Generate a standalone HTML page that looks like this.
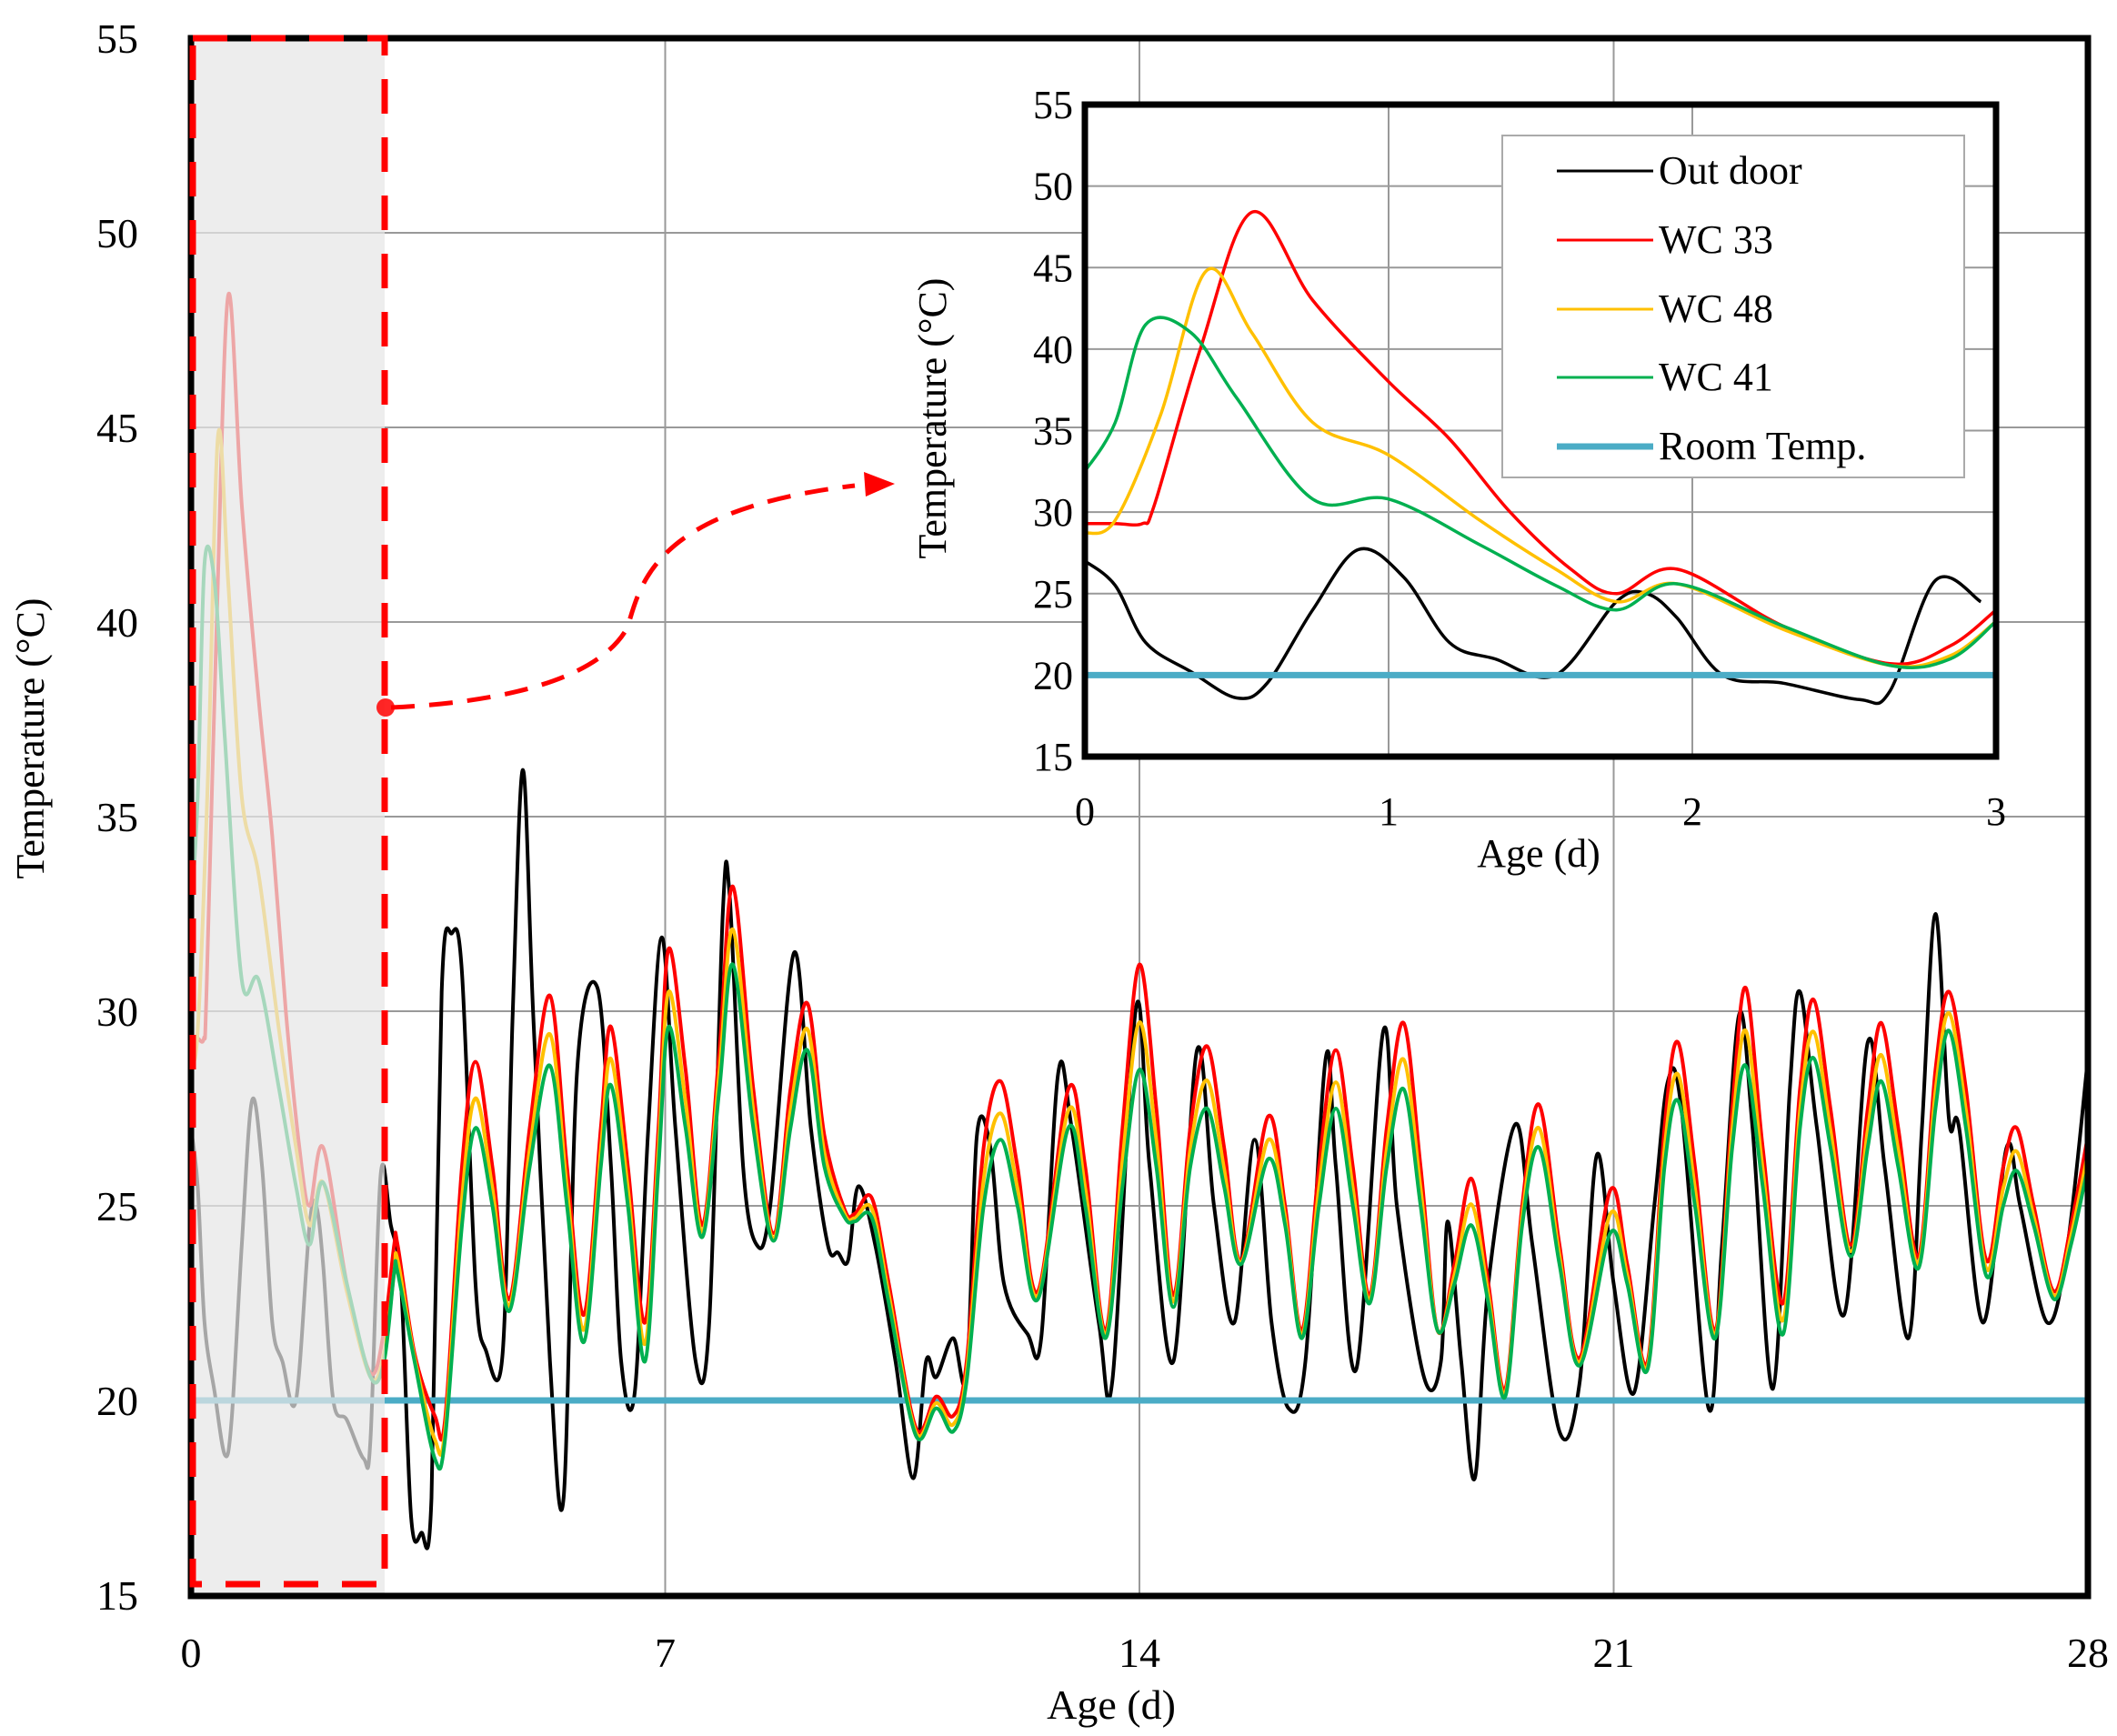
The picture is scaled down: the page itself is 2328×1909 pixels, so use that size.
<!DOCTYPE html>
<html><head><meta charset="utf-8">
<style>
html,body{margin:0;padding:0;background:#fff;}
svg{display:block;}
text{font-family:"Liberation Serif",serif;fill:#000;}
</style></head>
<body>
<svg id="s" width="2328" height="1909" viewBox="0 0 2328 1909" xmlns="http://www.w3.org/2000/svg">
<rect width="2328" height="1909" fill="#fff"/>
<g id="maingrid" stroke="#999" stroke-width="2"></g>
<g id="mainlines" fill="none" stroke-linejoin="round"></g>
<rect x="210" y="42" width="213" height="1713" fill="#e6e6e6" opacity="0.72"/>
<rect x="210" y="42" width="2086" height="1713" fill="none" stroke="#000" stroke-width="7"/>
<rect x="212" y="42" width="211" height="1700" fill="none" stroke="#f00" stroke-width="7" stroke-dasharray="38,26"/>
<path d="M430,778 C560,772 660,745 690,690 C705,640 720,560 940,534" fill="none" stroke="#f00" stroke-width="5" stroke-dasharray="26,16"/>
<polygon points="984,532 950,519 952,546" fill="#f00"/>
<circle cx="424" cy="778" r="10" fill="#f00" opacity="0.85"/>
<g id="ylab" font-size="46" text-anchor="end"></g>
<g id="xlab" font-size="46" text-anchor="middle"></g>
<text x="1222" y="1890" font-size="46" text-anchor="middle">Age (d)</text>
<text transform="translate(48,812) rotate(-90)" font-size="44" text-anchor="middle">Temperature (°C)</text>
<rect x="1193" y="115" width="1002" height="717" fill="#fff"/>
<g id="insetgrid" stroke="#999" stroke-width="2"></g>
<g id="insetlines" fill="none" stroke-linejoin="round"></g>
<rect x="1193" y="115" width="1002" height="717" fill="none" stroke="#000" stroke-width="7"/>
<g id="iylab" font-size="44" text-anchor="end"></g>
<g id="ixlab" font-size="44" text-anchor="middle"></g>
<text x="1692" y="953" font-size="44" text-anchor="middle">Age (d)</text>
<text transform="translate(1040,460) rotate(-90)" font-size="44" text-anchor="middle">Temperature (°C)</text>
<rect x="1652" y="149" width="508" height="376" fill="#fff" stroke="#aaa" stroke-width="2"/>
<g font-size="44">
<line x1="1712" y1="188" x2="1818" y2="188" stroke="#000" stroke-width="3"/><text x="1824" y="202">Out door</text>
<line x1="1712" y1="264" x2="1818" y2="264" stroke="#f00" stroke-width="3"/><text x="1824" y="278">WC 33</text>
<line x1="1712" y1="340" x2="1818" y2="340" stroke="#ffc000" stroke-width="3"/><text x="1824" y="354">WC 48</text>
<line x1="1712" y1="415" x2="1818" y2="415" stroke="#00b050" stroke-width="3"/><text x="1824" y="429">WC 41</text>
<line x1="1712" y1="491" x2="1818" y2="491" stroke="#4bacc6" stroke-width="7"/><text x="1824" y="505">Room Temp.</text>
</g>
</svg>
<script>
const NS="http://www.w3.org/2000/svg";
function el(tag,attrs,parent,txt){const e=document.createElementNS(NS,tag);for(const k in attrs)e.setAttribute(k,attrs[k]);if(txt!==undefined)e.textContent=txt;document.getElementById(parent).appendChild(e);return e;}
function smooth(pts){let d="M"+pts[0][0].toFixed(1)+","+pts[0][1].toFixed(1);
 for(let i=0;i<pts.length-1;i++){const p0=pts[i-1]||pts[i],p1=pts[i],p2=pts[i+1],p3=pts[i+2]||p2;
  const c1=[p1[0]+(p2[0]-p0[0])/6,p1[1]+(p2[1]-p0[1])/6],c2=[p2[0]-(p3[0]-p1[0])/6,p2[1]-(p3[1]-p1[1])/6];
  d+="C"+c1.map(v=>v.toFixed(1))+" "+c2.map(v=>v.toFixed(1))+" "+p2.map(v=>v.toFixed(1));}
 return d;}
const X=d=>210+d*74.5, Y=t=>42+(55-t)*42.8;
const IX=d=>1193+d*334, IY=t=>115+(55-t)*17.925;
const blk0=[[0,27],[0.1,25.5],[0.2,22],[0.35,20.2],[0.5,18.6],[0.6,19.5],[0.75,24],[0.9,27.7],[1.05,26],[1.2,22],[1.35,21],[1.55,20],[1.75,24.5],[1.85,25],[1.95,23.5],[2.1,20],[2.3,19.5],[2.55,18.5],[2.65,19],[2.8,25.8],[2.95,24.5]];
const red0=[[0,29.3],[0.1,29.3],[0.19,29.3],[0.23,30.5],[0.38,40],[0.55,48.4],[0.75,43],[1.0,38],[1.2,34.5],[1.4,30],[1.6,26.5],[1.75,25],[1.95,26.5],[2.3,23],[2.65,20.7],[2.85,21.8],[3,24]];
const yel0=[[0,28.7],[0.1,29.5],[0.25,36],[0.4,44.8],[0.55,41],[0.75,35.5],[1.0,33.5],[1.3,29.5],[1.55,26.5],[1.75,24.5],[1.95,25.6],[2.3,22.8],[2.65,20.6],[2.85,21.2],[3,23.3]];
const grn0=[[0,32.5],[0.1,35.5],[0.2,41.5],[0.35,41],[0.5,37],[0.75,30.8],[1.0,30.8],[1.3,28],[1.55,25.5],[1.75,24],[1.95,25.6],[2.3,23],[2.65,20.6],[2.85,21],[3,23.3]];
const blk1=[[3.1,23],[3.25,17],[3.4,16.6],[3.55,17.5],[3.7,30.5],[3.85,32],[4.0,31],[4.2,23],[4.35,21.3],[4.6,21.2],[4.75,30],[4.9,36.2],[5.05,30],[5.3,21],[5.5,17.5],[5.7,28.5],[6.0,30.6],[6.2,26],[6.35,21],[6.55,20.2],[6.75,27],[6.95,31.9],[7.15,27],[7.45,21],[7.65,22],[7.85,32.5],[7.95,33],[8.15,26],[8.35,24],[8.55,25],[8.9,31.5],[9.15,27],[9.4,24],[9.55,23.8],[9.7,23.6],[9.85,25.5],[10.1,24],[10.4,21],[10.66,18],[10.85,21],[11.0,20.6],[11.25,21.6],[11.45,20.6],[11.6,26.8],[11.8,26.5],[12.0,23],[12.35,21.7],[12.55,21.6],[12.8,28.4],[13.0,27],[13.4,22],[13.6,20.5],[13.95,30.1],[14.15,26],[14.5,21],[14.85,29],[15.1,25],[15.4,22],[15.7,26.7],[15.95,22],[16.2,19.8],[16.45,21],[16.75,28.8],[16.9,26],[17.2,20.8],[17.6,29.5],[17.8,25],[18.2,20.6],[18.45,21],[18.55,24.6],[18.75,21],[18.95,18],[19.15,23],[19.55,27.1],[19.8,24],[20.2,19.2],[20.5,20.5],[20.75,26.3],[21.0,23],[21.3,20.2],[21.6,25],[21.8,28.2],[22.0,27.5],[22.4,19.8],[22.6,24],[22.85,29.9],[23.05,27],[23.35,20.3],[23.6,28],[23.75,30.5],[24.0,27],[24.4,22.2],[24.75,29.2],[25.0,26],[25.35,21.6],[25.55,27],[25.75,32.5],[25.95,27.2],[26.1,27],[26.45,22],[26.8,26.5],[27.0,25],[27.4,22],[27.7,24],[28,28.8]];
const cc=[[3.05,23.3,24.0],[3.3,21,21.2],[3.6,18.5,19.6],[3.75,19,19.5],[4.0,24.5,26],[4.2,27,28.7],[4.45,25,26],[4.7,22.3,22.6],[5.0,26,27],[5.3,28.6,30.4],[5.55,25,26],[5.8,21.5,22.2],[6.05,26,27],[6.2,28.1,29.6],[6.45,25,26],[6.7,21,22],[6.9,26,27],[7.05,29.6,31.6],[7.3,27,28.5],[7.55,24.2,24.5],[7.8,28,29],[8.0,31.2,33.2],[8.3,27,28],[8.6,24.1,24.3],[8.85,27,28],[9.1,29,30.2],[9.35,26,26.8],[9.65,24.7,24.9],[9.8,24.6,24.8],[10.05,24.7,25.2],[10.3,22.5,23],[10.7,19.1,19.3],[11.0,19.8,20.1],[11.25,19.2,19.6],[11.45,20.5,21],[11.7,25,26.5],[11.95,26.7,28.2],[12.2,25,26],[12.5,22.6,22.8],[12.95,27,28],[13.2,25,26],[13.5,21.6,21.8],[13.75,25.5,27],[14.0,28.5,31.2],[14.25,26,27.5],[14.5,22.4,22.7],[14.75,26,27],[15.0,27.5,29.1],[15.25,25.5,26.5],[15.5,23.5,23.6],[15.9,26.2,27.3],[16.15,24.5,25],[16.4,21.6,21.8],[16.65,25,26],[16.9,27.5,29],[17.15,25,26],[17.4,22.5,22.7],[17.65,26,27],[17.9,28,29.7],[18.15,25,26],[18.4,21.8,21.8],[18.65,23,23.5],[18.9,24.5,25.7],[19.15,22.5,23],[19.4,20.1,20.3],[19.65,24.5,25],[19.9,26.5,27.6],[20.2,23.5,24],[20.5,20.9,21.1],[20.95,24.3,25.4],[21.2,23,23.5],[21.5,20.8,21],[21.75,26,27],[21.95,27.7,29.2],[22.2,25,26],[22.5,21.6,21.8],[22.75,26.5,27.5],[22.95,28.6,30.6],[23.2,25.5,26.5],[23.5,21.7,22.5],[23.75,27,28],[23.95,28.8,30.3],[24.2,26.5,27.5],[24.5,23.7,24],[24.75,26.5,27.5],[24.95,28.2,29.7],[25.2,26,27],[25.5,23.4,23.7],[25.75,27.5,28.5],[25.95,29.5,30.5],[26.2,27,28],[26.5,23.2,23.6],[26.75,25,26],[26.95,25.9,27],[27.2,24.5,25],[27.5,22.6,22.8],[27.75,24,24.5],[28,26,26.8]];
const grn=grn0.concat(cc.map(r=>[r[0],r[1]]));
const red=red0.concat(cc.map(r=>[r[0],r[2]]));
const yel=yel0.concat(cc.map(r=>[r[0],r[1]+0.45*(r[2]-r[1])]));
const blk=blk0.concat(blk1);
for(let t=20;t<=50;t+=5) el("line",{x1:210,x2:2296,y1:Y(t),y2:Y(t)},"maingrid");
for(const d of [7,14,21]) el("line",{x1:X(d),x2:X(d),y1:42,y2:1755},"maingrid");
for(let t=15;t<=55;t+=5) el("text",{x:152,y:Y(t)+16},"ylab",String(t));
for(const d of [0,7,14,21,28]) el("text",{x:X(d),y:1833},"xlab",String(d));
const mp=a=>a.map(p=>[X(p[0]),Y(p[1])]);
el("path",{d:smooth(mp(blk)),stroke:"#000","stroke-width":4},"mainlines");
el("line",{x1:210,x2:2296,y1:Y(20),y2:Y(20),stroke:"#4bacc6","stroke-width":7},"mainlines");
el("path",{d:smooth(mp(red)),stroke:"#f00","stroke-width":4},"mainlines");
el("path",{d:smooth(mp(yel)),stroke:"#ffc000","stroke-width":4},"mainlines");
el("path",{d:smooth(mp(grn)),stroke:"#00b050","stroke-width":4},"mainlines");
for(let t=20;t<=50;t+=5) el("line",{x1:1193,x2:2195,y1:IY(t),y2:IY(t)},"insetgrid");
for(const d of [1,2]) el("line",{x1:IX(d),x2:IX(d),y1:115,y2:832},"insetgrid");
for(let t=15;t<=55;t+=5) el("text",{x:1180,y:IY(t)+15},"iylab",String(t));
for(const d of [0,1,2,3]) el("text",{x:IX(d),y:907},"ixlab",String(d));
const ip=a=>a.filter(p=>p[0]<=3.001).map(p=>[IX(p[0]),IY(p[1])]);
el("path",{d:smooth(ip(blk)),stroke:"#000","stroke-width":3.5},"insetlines");
el("line",{x1:1193,x2:2195,y1:IY(20),y2:IY(20),stroke:"#4bacc6","stroke-width":7},"insetlines");
el("path",{d:smooth(ip(red)),stroke:"#f00","stroke-width":3.5},"insetlines");
el("path",{d:smooth(ip(yel)),stroke:"#ffc000","stroke-width":3.5},"insetlines");
el("path",{d:smooth(ip(grn)),stroke:"#00b050","stroke-width":3.5},"insetlines");
</script>
</body></html>
